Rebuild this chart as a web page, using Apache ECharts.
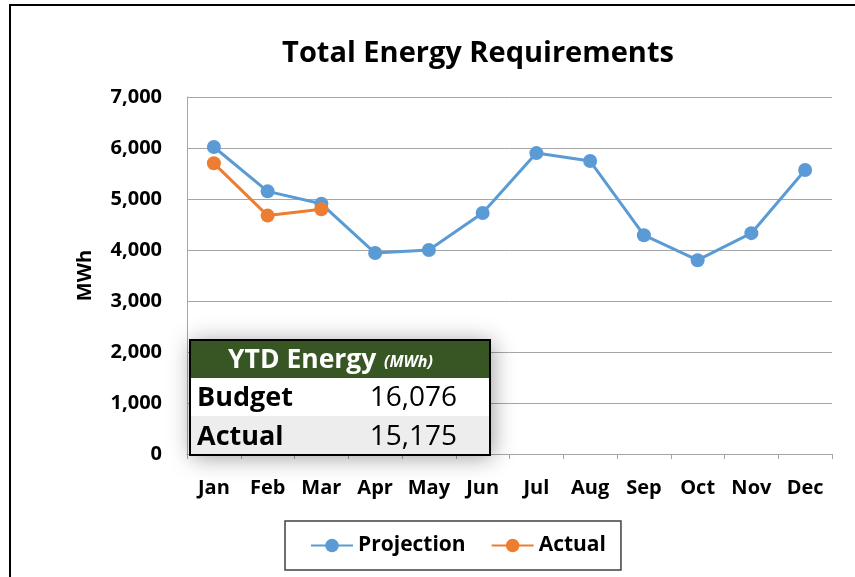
<!DOCTYPE html>
<html><head><meta charset="utf-8">
<script src="https://cdn.jsdelivr.net/npm/echarts@6/dist/echarts.min.js"></script>
<style>html,body{margin:0;padding:0;background:#fff}#c{width:855px;height:577px}</style>
</head><body><div id="c"></div>
<script>
const months = ['Jan','Feb','Mar','Apr','May','Jun','Jul','Aug','Sep','Oct','Nov','Dec'];
const projection = [6020, 5150, 4906, 3940, 4000, 4725, 5900, 5745, 4290, 3800, 4330, 5570];
const actual = [5700, 4675, 4800, null, null, null, null, null, null, null, null, null];
const yTicks = [0, 1000, 2000, 3000, 4000, 5000, 6000, 7000];
const tableTitle = 'YTD Energy';
const tableUnit = '(MWh)';
const tableRows = ['Budget', 'Actual'];
const tableValues = ['16,076', '15,175'];

const F = '"Open Sans", sans-serif';
const chart = echarts.init(document.getElementById('c'), null, {renderer: 'canvas'});
const tx = 190, ty = 340, tw = 300, th = 115;
chart.setOption({
  backgroundColor: '#fff',
  animation: false,
  title: {text: 'Total Energy Requirements', left: 473, textAlign: 'center', top: 34,
    textStyle: {fontFamily: F, fontWeight: 'bold', fontSize: 29, color: '#000'}},
  grid: {left: 187, right: 23, top: 97, bottom: 123},
  xAxis: {type: 'category', data: months, boundaryGap: true,
    axisLine: {lineStyle: {color: '#a6a6a6', width: 1}},
    axisTick: {show: true, length: 5, lineStyle: {color: '#a6a6a6'}},
    axisLabel: {interval: 0, hideOverlap: false, fontFamily: F, fontWeight: 'bold', fontSize: 20, color: '#000', margin: 24}},
  yAxis: {type: 'value', min: yTicks[0], max: yTicks[yTicks.length-1], interval: 1000,
    name: 'MWh', nameLocation: 'middle', nameGap: 92, nameRotate: 90,
    nameTextStyle: {fontFamily: F, fontWeight: 'bold', fontSize: 20, color: '#000'},
    axisLine: {show: true, lineStyle: {color: '#a6a6a6'}},
    axisTick: {show: false},
    splitLine: {lineStyle: {color: '#a6a6a6', width: 1}},
    axisLabel: {fontFamily: F, fontWeight: 'bold', fontSize: 20, color: '#000', margin: 25,
      formatter: v => v.toLocaleString('en-US')}},
  legend: {bottom: 7, left: 285, itemWidth: 42, itemHeight: 17, itemGap: 25,
    padding: [14, 15, 14, 25], borderColor: '#404040', borderWidth: 1.5,
    textStyle: {fontFamily: F, fontWeight: 'bold', fontSize: 21, color: '#000'},
    data: ['Projection', 'Actual']},
  series: [
    {name: 'Projection', type: 'line', data: projection, symbol: 'circle', symbolSize: 14,
      itemStyle: {color: '#5B9BD5'}, lineStyle: {color: '#5B9BD5', width: 3}, z: 2},
    {name: 'Actual', type: 'line', data: actual, symbol: 'circle', symbolSize: 14,
      itemStyle: {color: '#ED7D31'}, lineStyle: {color: '#ED7D31', width: 3}, z: 3}
  ],
  graphic: [
    {type: 'rect', shape: {x: 10, y: 5, width: 900, height: 700}, style: {fill: 'none', stroke: '#000', lineWidth: 2}, z: 0, silent: true},
    {type: 'rect', shape: {x: tx, y: ty, width: tw, height: th},
      style: {fill: '#fff', shadowBlur: 22, shadowColor: 'rgba(0,0,0,0.4)', shadowOffsetX: 2, shadowOffsetY: 2}, z: 50},
    {type: 'rect', shape: {x: tx, y: ty, width: tw, height: 38}, style: {fill: '#375623'}, z: 51},
    {type: 'rect', shape: {x: tx, y: ty + 38, width: tw, height: 38}, style: {fill: '#ffffff'}, z: 51},
    {type: 'rect', shape: {x: tx, y: ty + 76, width: tw, height: th - 76}, style: {fill: '#ededed'}, z: 51},
    {type: 'rect', shape: {x: tx, y: ty, width: tw, height: th}, style: {fill: 'none', stroke: '#000', lineWidth: 2}, z: 53},
    {type: 'text', x: 228, y: ty + 20, style: {text: tableTitle, fill: '#fff', fontFamily: F, fontWeight: 'bold', fontSize: 26.5, verticalAlign: 'middle'}, z: 54},
    {type: 'text', x: 384, y: ty + 22, style: {text: tableUnit, fill: '#fff', fontFamily: F, fontWeight: 'bold', fontStyle: 'italic', fontSize: 16, verticalAlign: 'middle'}, z: 54},
    {type: 'text', x: 197, y: ty + 58, style: {text: tableRows[0], fill: '#000', fontFamily: F, fontWeight: 'bold', fontSize: 27, verticalAlign: 'middle'}, z: 54},
    {type: 'text', x: 197, y: ty + 97, style: {text: tableRows[1], fill: '#000', fontFamily: F, fontWeight: 'bold', fontSize: 27, verticalAlign: 'middle'}, z: 54},
    {type: 'text', x: 457, y: ty + 58, style: {text: tableValues[0], fill: '#000', fontFamily: F, fontSize: 28, align: 'right', verticalAlign: 'middle'}, z: 54},
    {type: 'text', x: 457, y: ty + 97, style: {text: tableValues[1], fill: '#000', fontFamily: F, fontSize: 28, align: 'right', verticalAlign: 'middle'}, z: 54}
  ]
});
</script></body></html>
